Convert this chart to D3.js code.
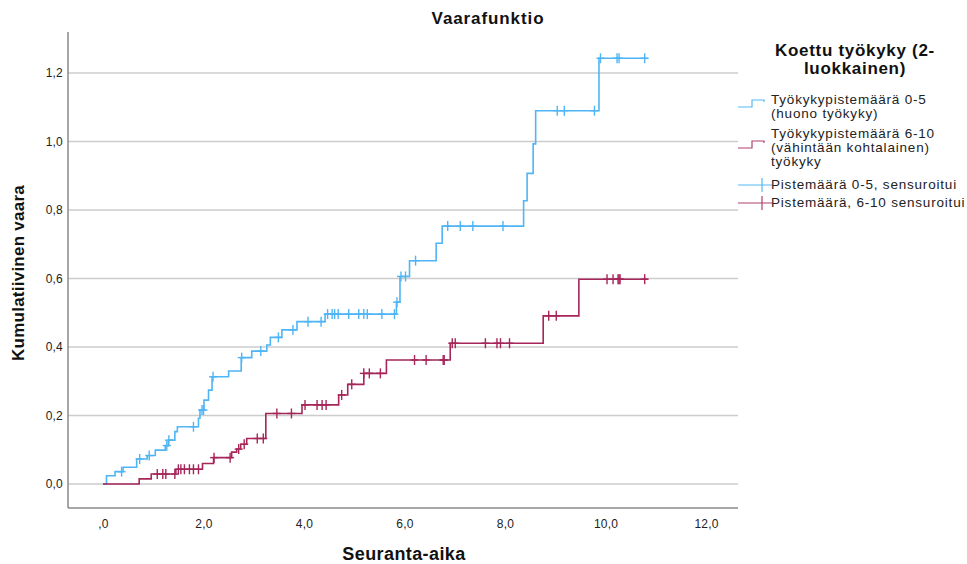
<!DOCTYPE html>
<html>
<head>
<meta charset="utf-8">
<script src="https://cdn.jsdelivr.net/npm/d3@7"></script>
<style>
    body { margin: 0; background: #fff; }
    svg { display: block; font-family: "Liberation Sans", Arial, sans-serif; }
</style>
</head>
<body>
<svg id="chart" width="967" height="564"></svg>
<script>
// axis ticks
const xTicks = [0, 2, 4, 6, 8, 10, 12];
const xTickLabels = [",0", "2,0", "4,0", "6,0", "8,0", "10,0", "12,0"];
const yTicks = [0, 0.2, 0.4, 0.6, 0.8, 1.0, 1.2];
const yTickLabels = ["0,0", "0,2", "0,4", "0,6", "0,8", "1,0", "1,2"];

// group 0-5 (huono työkyky): event times and cumulative hazard after each step
const poorTimes = [0, 0.07, 0.24, 0.40, 0.67, 0.88, 1.04, 1.24, 1.30, 1.43, 1.48, 1.90, 1.93, 2.01, 2.10, 2.17,
                   2.50, 2.75, 2.96, 3.26, 3.33, 3.56, 3.86, 4.42, 5.84, 5.91, 6.10, 6.63, 6.75, 8.37, 8.44,
                   8.56, 8.61, 9.87, 10.84];
const poorHazard = [0, 0.024, 0.036, 0.049, 0.073, 0.083, 0.099, 0.112, 0.128, 0.153, 0.167, 0.192, 0.216, 0.245,
                    0.274, 0.313, 0.330, 0.369, 0.388, 0.406, 0.428, 0.450, 0.474, 0.496, 0.531, 0.606, 0.652,
                    0.703, 0.753, 0.827, 0.907, 0.993, 1.090, 1.243, 1.243];
const poorCensored = [0.37, 0.73, 0.92, 1.27, 1.31, 1.80, 1.97, 2.00, 2.19, 2.76, 3.14, 3.49, 3.78, 4.08, 4.34,
                      4.47, 4.56, 4.61, 4.68, 4.89, 5.09, 5.19, 5.26, 5.55, 5.80, 5.85, 5.93, 6.02, 6.22, 6.86,
                      7.11, 7.36, 7.96, 9.04, 9.18, 9.78, 9.90, 10.23, 10.27, 10.78];

// group 6-10 (vähintään kohtalainen työkyky)
const fairTimes = [0, 0.72, 0.96, 1.45, 1.98, 2.20, 2.56, 2.66, 2.74, 2.86, 3.24, 3.96, 4.69, 4.87, 5.19, 5.64,
                   6.91, 8.76, 9.47, 10.84];
const fairHazard = [0, 0.015, 0.029, 0.043, 0.060, 0.077, 0.093, 0.102, 0.116, 0.133, 0.206, 0.231, 0.260, 0.291,
                    0.323, 0.362, 0.411, 0.491, 0.598, 0.598];
const fairCensored = [1.08, 1.19, 1.25, 1.43, 1.50, 1.55, 1.62, 1.72, 1.80, 1.90, 2.21, 2.53, 2.70, 2.81, 3.07,
                      3.19, 3.46, 3.75, 4.02, 4.26, 4.36, 4.44, 4.75, 4.95, 5.19, 5.30, 5.52, 6.20, 6.43, 6.77,
                      6.79, 6.95, 7.01, 7.61, 7.84, 7.91, 8.09, 8.87, 9.02, 10.03, 10.15, 10.25, 10.27, 10.29, 10.78];

const legendTitle = ["Koettu työkyky (2-", "luokkainen)"];
const legendItems = [
    { type: "step", color: "#55b8f5", lines: ["Työkykypistemäärä 0-5", "(huono työkyky)"] },
    { type: "step", color: "#b0406c", lines: ["Työkykypistemäärä 6-10", "(vähintään kohtalainen)", "työkyky"] },
    { type: "cross", color: "#55b8f5", lines: ["Pistemäärä 0-5, sensuroitui"] },
    { type: "cross", color: "#b0406c", lines: ["Pistemäärä, 6-10 sensuroitui"] }
];

const BLUE = "#4fb5f5";
const RED = "#a6265a";
const PLOT = { left: 68, right: 738, top: 32, bottom: 508 };

const svg = d3.select("#chart");

const xScale = d3.scaleLinear().domain([0, 12]).range([103, 706]);
const yScale = d3.scaleLinear().domain([0, 1.2]).range([484, 73]);

// gridlines
svg.append("g")
   .selectAll("line")
   .data(yTicks)
   .enter()
   .append("line")
   .attr("x1", PLOT.left)
   .attr("x2", PLOT.right)
   .attr("y1", d => yScale(d))
   .attr("y2", d => yScale(d))
   .attr("stroke", "#cccccc")
   .attr("stroke-width", 1.5);

// axes (no tick marks, just labels)
const xAxis = d3.axisBottom(xScale)
                .tickValues(xTicks)
                .tickSize(0)
                .tickPadding(11)
                .tickFormat((d, i) => xTickLabels[i]);
const gx = svg.append("g")
              .attr("transform", "translate(0," + PLOT.bottom + ")")
              .call(xAxis);
gx.select(".domain").remove();

const yAxis = d3.axisLeft(yScale)
                .tickValues(yTicks)
                .tickSize(0)
                .tickPadding(5)
                .tickFormat((d, i) => yTickLabels[i]);
const gy = svg.append("g")
              .attr("transform", "translate(" + PLOT.left + ",0)")
              .call(yAxis);
gy.select(".domain").remove();

[gx, gy].forEach(g => {
    g.selectAll("text")
     .attr("fill", "#222")
     .style("font-size", "12px")
     .style("letter-spacing", "0.2px")
     .style("font-family", "'Liberation Sans', Arial, sans-serif");
});

svg.append("line")
   .attr("x1", PLOT.left).attr("x2", PLOT.left)
   .attr("y1", PLOT.top).attr("y2", PLOT.bottom)
   .attr("stroke", "#8a8a8a").attr("stroke-width", 1.5);
svg.append("line")
   .attr("x1", PLOT.left).attr("x2", PLOT.right)
   .attr("y1", PLOT.bottom).attr("y2", PLOT.bottom)
   .attr("stroke", "#8a8a8a").attr("stroke-width", 1.5);

// step curves
const stepLine = d3.line()
                   .x(d => xScale(d[0]))
                   .y(d => yScale(d[1]))
                   .curve(d3.curveStepAfter);

const levelAt = (times, hazard, t) => {
    let idx = d3.bisectRight(times, t) - 1;
    return hazard[Math.max(0, idx)];
};

const renderGroup = (times, hazard, censored, color) => {
    const points = times.map((t, i) => [t, hazard[i]]);
    svg.append("path")
       .datum(points)
       .attr("d", stepLine)
       .attr("fill", "none")
       .attr("stroke", color)
       .attr("stroke-width", 1.6);

    const marks = svg.append("g")
                     .selectAll("g")
                     .data(censored)
                     .enter()
                     .append("g")
                     .attr("transform", d => "translate(" + xScale(d) + "," + yScale(levelAt(times, hazard, d)) + ")");
    marks.append("line")
         .attr("x1", 0).attr("x2", 0)
         .attr("y1", -5).attr("y2", 5)
         .attr("stroke", color).attr("stroke-width", 1.4);
    marks.append("line")
         .attr("x1", -4).attr("x2", 4)
         .attr("y1", 0).attr("y2", 0)
         .attr("stroke", color).attr("stroke-width", 1.4);
};

renderGroup(poorTimes, poorHazard, poorCensored, BLUE);
renderGroup(fairTimes, fairHazard, fairCensored, RED);

// titles
svg.append("text")
   .attr("x", 488)
   .attr("y", 24)
   .attr("text-anchor", "middle")
   .style("font-size", "17px")
   .style("letter-spacing", "0.9px")
   .style("font-weight", "bold")
   .attr("fill", "#111")
   .text("Vaarafunktio");

svg.append("text")
   .attr("x", 404)
   .attr("y", 560)
   .attr("text-anchor", "middle")
   .style("font-size", "18px")
   .style("letter-spacing", "0.4px")
   .style("font-weight", "bold")
   .attr("fill", "#111")
   .text("Seuranta-aika");

svg.append("text")
   .attr("transform", "translate(24,273) rotate(-90)")
   .attr("text-anchor", "middle")
   .style("font-size", "17px")
   .style("letter-spacing", "0.25px")
   .style("font-weight", "bold")
   .attr("fill", "#111")
   .text("Kumulatiivinen vaara");

// legend
const legend = svg.append("g");
legend.selectAll("text.ltitle")
      .data(legendTitle)
      .enter()
      .append("text")
      .attr("class", "ltitle")
      .attr("x", 855)
      .attr("y", (d, i) => 56 + i * 18)
      .attr("text-anchor", "middle")
      .style("font-size", "17px")
      .style("letter-spacing", "0.7px")
      .style("font-weight", "bold")
      .attr("fill", "#111")
      .text(d => d);

const itemTops = [104, 138, 189, 207];
legendItems.forEach((item, k) => {
    const base = itemTops[k];
    const g = legend.append("g");
    item.lines.forEach((ln, j) => {
        g.append("text")
         .attr("x", 771)
         .attr("y", base + j * 14)
         .style("font-size", "13.5px")
         .style("letter-spacing", "0.8px")
         .attr("fill", "#222")
         .text(ln);
    });
    if (item.type === "step") {
        const cy = base - 1 + (item.lines.length > 2 ? 7 : 0);
        g.append("path")
         .attr("d", "M738," + (cy + 4) + "H752V" + (cy - 3) + "H764V" + (cy - 1))
         .attr("fill", "none")
         .attr("stroke", item.color)
         .attr("stroke-width", 1.2);
    } else {
        const cy = base - 4;
        g.append("line")
         .attr("x1", 738).attr("x2", 772)
         .attr("y1", cy).attr("y2", cy)
         .attr("stroke", item.color).attr("stroke-width", 1.2);
        g.append("line")
         .attr("x1", 762).attr("x2", 762)
         .attr("y1", cy - 7).attr("y2", cy + 7)
         .attr("stroke", item.color).attr("stroke-width", 1.2);
    }
});
</script>
</body>
</html>
